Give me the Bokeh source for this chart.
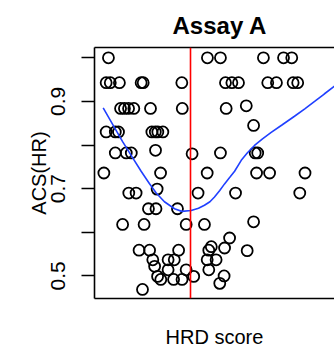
from bokeh.plotting import figure
from bokeh.models import Range1d, LinearAxis, FixedTicker, Span
from bokeh.embed import file_html
from bokeh.resources import INLINE

# HRD score vs ACS(HR), Assay A
hrd = [6.1, 49.4, 55.1, 73.9, 82.7, 86.3,
       5.1, 6.9, 10.9, 20.4, 21.3, 38.2, 57.3, 60.1, 63.0, 75.8, 79.6, 86.9, 88.9,
       11.4, 13.1, 14.9, 17.2, 24.5, 38.4, 57.6,
       66.4, 69.6,
       5.1, 9.1, 10.5, 25.1, 26.6, 27.7, 29.9,
       9.1, 13.9, 16.1, 55.1, 70.3, 71.4, 26.7, 42.7,
       4.1, 28.9, 49.3, 70.9, 76.6, 92.1,
       27.4, 15.0, 18.2, 45.3, 61.7, 89.8,
       23.6, 26.9, 36.3,
       69.6,
       12.3, 21.7, 40.1, 48.1,
       59.1, 51.1,
       19.5, 24.1, 36.8, 50.0, 56.9, 66.8,
       25.5, 32.2, 34.9, 49.3, 53.2,
       26.3,
       32.2, 40.1, 50.0,
       27.6, 43.4, 56.7,
       29.0, 34.6, 38.3,
       54.8, 21.0]
acs = [1.000, 1.000, 1.000, 1.000, 1.000, 1.000,
       0.943, 0.943, 0.943, 0.943, 0.943, 0.943, 0.943, 0.943, 0.943, 0.943, 0.943, 0.943, 0.943,
       0.884, 0.884, 0.884, 0.884, 0.884, 0.884, 0.884,
       0.890, 0.845,
       0.830, 0.830, 0.830, 0.830, 0.830, 0.830, 0.830,
       0.782, 0.782, 0.782, 0.782, 0.782, 0.782, 0.788, 0.780,
       0.736, 0.736, 0.736, 0.736, 0.736, 0.736,
       0.699, 0.690, 0.690, 0.690, 0.690, 0.690,
       0.654, 0.654, 0.654,
       0.624,
       0.618, 0.618, 0.618, 0.618,
       0.587, 0.567,
       0.559, 0.559, 0.559, 0.559, 0.564, 0.558,
       0.537, 0.537, 0.537, 0.537, 0.537,
       0.522,
       0.514, 0.514, 0.514,
       0.499, 0.499, 0.500,
       0.492, 0.492, 0.492,
       0.483, 0.469]

# smoothed (loess) fit
fit_hrd = [3.8, 8.0, 12.3, 16.3, 20.4, 24.0, 27.0, 30.6, 35.0, 38.2, 42.3, 45.5, 48.1,
           50.5, 52.5, 54.8, 56.9, 59.2, 61.3, 64.2, 67.0, 70.0, 73.5, 77.3, 82.0,
           87.5, 92.0, 96.3, 100.5, 105.0]
fit_acs = [0.885, 0.847, 0.808, 0.774, 0.740, 0.712, 0.690, 0.670, 0.654, 0.648, 0.650,
           0.655, 0.662, 0.670, 0.681, 0.696, 0.711, 0.726, 0.740, 0.765, 0.783, 0.799,
           0.814, 0.829, 0.846, 0.866, 0.883, 0.900, 0.917, 0.935]

threshold = 42
yticks = [0.5, 0.6, 0.7, 0.8, 0.9, 1.0]
ylabels = ["0.5", "", "0.7", "", "0.9", ""]

FONT = "Liberation Sans"

p = figure(width=334, height=350, x_range=Range1d(0, 105), y_range=Range1d(0.4483, 1.0236),
           output_backend="svg", toolbar_location=None,
           x_axis_location=None, y_axis_location=None,
           min_border_left=94, min_border_right=0, min_border_top=44, min_border_bottom=50)
p.outline_line_color = None
p.background_fill_color = "white"
p.border_fill_color = "white"
p.grid.grid_line_color = None

p.title.text = "Assay A"
p.title.align = "left"
p.title.offset = 78
p.title.standoff = 18
p.title.text_font = FONT
p.title.text_font_style = "bold"
p.title.text_font_size = "24px"
p.title.text_color = "black"

yaxis = LinearAxis(ticker=FixedTicker(ticks=yticks),
                   major_label_overrides={t: l for t, l in zip(yticks, ylabels)},
                   axis_label="ACS(HR)")
yaxis.major_label_orientation = "vertical"
yaxis.major_label_text_font = FONT
yaxis.major_label_text_font_size = "21px"
yaxis.major_label_text_color = "black"
yaxis.major_label_standoff = 16
yaxis.axis_label_text_font = FONT
yaxis.axis_label_text_font_size = "20px"
yaxis.axis_label_text_font_style = "normal"
yaxis.axis_label_text_color = "black"
yaxis.axis_label_standoff = -1
yaxis.major_tick_out = 13
yaxis.major_tick_in = 0
yaxis.minor_tick_out = 0
yaxis.minor_tick_in = 0
yaxis.major_tick_line_width = 1.5
yaxis.axis_line_width = 1.6
yaxis.axis_line_color = "black"
yaxis.major_tick_line_color = "black"
p.add_layout(yaxis, "left")

xaxis = LinearAxis(ticker=FixedTicker(ticks=[]), axis_label="HRD score")
xaxis.axis_label_text_font = FONT
xaxis.axis_label_text_font_size = "20px"
xaxis.axis_label_text_font_style = "normal"
xaxis.axis_label_text_color = "black"
xaxis.axis_label_standoff = 27
xaxis.axis_line_width = 1.6
xaxis.axis_line_color = "black"
xaxis.minor_tick_out = 0
xaxis.minor_tick_in = 0
xaxis.major_tick_out = 0
xaxis.major_tick_in = 0
p.add_layout(xaxis, "below")

topaxis = LinearAxis(ticker=FixedTicker(ticks=[]))
topaxis.axis_line_width = 1.6
topaxis.axis_line_color = "black"
topaxis.major_tick_out = 0
topaxis.major_tick_in = 0
topaxis.minor_tick_out = 0
topaxis.minor_tick_in = 0
p.add_layout(topaxis, "above")

p.scatter(hrd, acs, marker="circle", size=11, fill_color=None,
          line_color="black", line_width=1.8)
p.line(fit_hrd, fit_acs, line_color="#2040ff", line_width=1.6)
p.add_layout(Span(location=threshold, dimension="height", line_color="red", line_width=1.6))

open("out.html", "w").write(file_html(p, INLINE))
